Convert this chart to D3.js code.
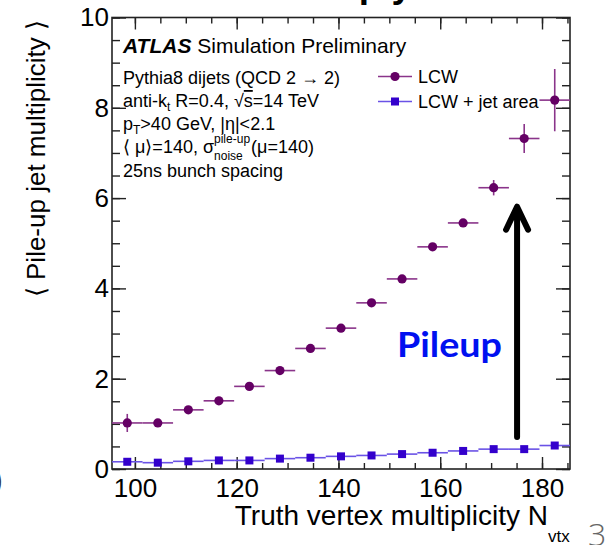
<!DOCTYPE html>
<html>
<head>
<meta charset="utf-8">
<script src="https://cdn.jsdelivr.net/npm/d3@7"></script>
<style>
  body { margin: 0; background: #fff; }
  svg { display: block; }
  text { font-family: "Liberation Sans", Arial, Helvetica, sans-serif; }
</style>
</head>
<body>
<svg id="chart" width="610" height="545"></svg>
<script>
// Truth vertex multiplicity bins (centres, width 6)
const binCenters = [98.5, 104.5, 110.5, 116.5, 122.5, 128.5, 134.5, 140.5,
                    146.5, 152.5, 158.5, 164.5, 170.5, 176.5, 182.5];
const binHalfWidth = 3;

// <pile-up jet multiplicity>, LCW
const lcwValues = [1.02, 1.02, 1.31, 1.51, 1.83, 2.18, 2.67, 3.12,
                   3.68, 4.21, 4.92, 5.45, 6.23, 7.32, 8.17];
const lcwErrors = [0.20, 0.05, 0.05, 0.05, 0.05, 0.05, 0.05, 0.05,
                   0.05, 0.05, 0.06, 0.08, 0.17, 0.32, 0.69];

// <pile-up jet multiplicity>, LCW + jet area subtraction
const jetAreaValues = [0.16, 0.14, 0.17, 0.19, 0.19, 0.23, 0.25, 0.28,
                       0.30, 0.33, 0.36, 0.40, 0.44, 0.44, 0.52];

const xTicks = [100, 120, 140, 160, 180];
const yTicks = [0, 2, 4, 6, 8, 10];
const xMinorTicks = d3.range(100, 185.1, 5);
const yMinorTicks = d3.range(0, 10.01, 0.5);

const seriesNames = ["LCW", "LCW + jet area"];

const svg = d3.select("#chart");
const frame = { left: 112, right: 570, top: 17.5, bottom: 469 };

const x = d3.scaleLinear().domain([95.5, 185.5]).range([frame.left, frame.right]);
const y = d3.scaleLinear().domain([0, 10]).range([frame.bottom, frame.top]);

const axisColor = "#222";
const tickFont = 26;

// ---- axes (ticks point inward on all four sides) ----
function styleAxis(g, showLabels) {
  g.select(".domain").remove();
  g.selectAll(".tick line").attr("stroke", axisColor).attr("stroke-width", 1.4);
  if (!showLabels) g.selectAll(".tick text").remove();
  else g.selectAll(".tick text")
        .attr("fill", "#000")
        .style("font-size", tickFont + "px")
        .style("font-family", "'Liberation Sans', Arial, sans-serif");
}

svg.append("g").attr("transform", `translate(0,${frame.bottom})`)
  .call(d3.axisBottom(x).tickValues(xMinorTicks).tickSize(-6).tickFormat(""))
  .call(g => styleAxis(g, false));
svg.append("g").attr("transform", `translate(0,${frame.bottom})`)
  .call(d3.axisBottom(x).tickValues(xTicks).tickSize(-12).tickPadding(10).tickFormat(d3.format("d")))
  .call(g => styleAxis(g, true));
svg.append("g").attr("transform", `translate(0,${frame.top})`)
  .call(d3.axisTop(x).tickValues(xMinorTicks).tickSize(-6).tickFormat(""))
  .call(g => styleAxis(g, false));
svg.append("g").attr("transform", `translate(0,${frame.top})`)
  .call(d3.axisTop(x).tickValues(xTicks).tickSize(-12).tickFormat(""))
  .call(g => styleAxis(g, false));

svg.append("g").attr("transform", `translate(${frame.left},0)`)
  .call(d3.axisLeft(y).tickValues(yMinorTicks).tickSize(-8).tickFormat(""))
  .call(g => styleAxis(g, false));
svg.append("g").attr("transform", `translate(${frame.left},0)`)
  .call(d3.axisLeft(y).tickValues(yTicks).tickSize(-14).tickPadding(3).tickFormat(d3.format("d")))
  .call(g => styleAxis(g, true));
svg.append("g").attr("transform", `translate(${frame.right},0)`)
  .call(d3.axisRight(y).tickValues(yMinorTicks).tickSize(-8).tickFormat(""))
  .call(g => styleAxis(g, false));
svg.append("g").attr("transform", `translate(${frame.right},0)`)
  .call(d3.axisRight(y).tickValues(yTicks).tickSize(-14).tickFormat(""))
  .call(g => styleAxis(g, false));

// frame
svg.append("rect")
  .attr("x", frame.left).attr("y", frame.top)
  .attr("width", frame.right - frame.left).attr("height", frame.bottom - frame.top)
  .attr("fill", "none").attr("stroke", axisColor).attr("stroke-width", 1.6);

// ---- axis titles ----
svg.append("text")
  .attr("x", 548).attr("y", 525)
  .attr("text-anchor", "end")
  .style("font-size", "28px").attr("fill", "#000")
  .text("Truth vertex multiplicity N");
svg.append("text")
  .attr("x", 548).attr("y", 542)
  .style("font-size", "17px").attr("fill", "#000")
  .text("vtx");

svg.append("text")
  .attr("transform", "translate(45,20) rotate(-90)")
  .attr("text-anchor", "end")
  .style("font-size", "26px").attr("fill", "#000")
  .text("\u27E8 Pile-up jet multiplicity \u27E9");

// ---- data ----
const lcwLine = "#8a348a", lcwMarker = "#640064";
const areaLine = "#6a52e6", areaMarker = "#3300cc";

const data = binCenters.map((c, i) => ({
  c, lcw: lcwValues[i], err: lcwErrors[i], area: jetAreaValues[i]
}));

const gArea = svg.append("g");
gArea.selectAll("line.h").data(data).join("line")
  .attr("x1", d => x(d.c - binHalfWidth)).attr("x2", d => x(d.c + binHalfWidth))
  .attr("y1", d => y(d.area)).attr("y2", d => y(d.area))
  .attr("stroke", areaLine).attr("stroke-width", 1.6);
gArea.selectAll("rect").data(data).join("rect")
  .attr("x", d => x(d.c) - 4).attr("y", d => y(d.area) - 4)
  .attr("width", 8).attr("height", 8)
  .attr("fill", areaMarker);

const gLcw = svg.append("g");
gLcw.selectAll("line.h").data(data).join("line")
  .attr("x1", d => x(d.c - binHalfWidth)).attr("x2", d => x(d.c + binHalfWidth))
  .attr("y1", d => y(d.lcw)).attr("y2", d => y(d.lcw))
  .attr("stroke", lcwLine).attr("stroke-width", 1.6);
gLcw.selectAll("line.v").data(data).join("line")
  .attr("x1", d => x(d.c)).attr("x2", d => x(d.c))
  .attr("y1", d => y(d.lcw - d.err)).attr("y2", d => y(d.lcw + d.err))
  .attr("stroke", lcwLine).attr("stroke-width", 1.6);
gLcw.selectAll("circle").data(data).join("circle")
  .attr("cx", d => x(d.c)).attr("cy", d => y(d.lcw)).attr("r", 4.6)
  .attr("fill", lcwMarker);

// ---- legend ----
const legend = svg.append("g").style("font-size", "18px");
[[lcwLine, lcwMarker, "circle"], [areaLine, areaMarker, "square"]].forEach(([lc, mc, shape], i) => {
  const cy = 76.5 + i * 25;
  legend.append("line").attr("x1", 378).attr("x2", 412).attr("y1", cy).attr("y2", cy)
    .attr("stroke", lc).attr("stroke-width", 1.6);
  if (shape === "circle")
    legend.append("circle").attr("cx", 395).attr("cy", cy).attr("r", 4.6).attr("fill", mc);
  else
    legend.append("rect").attr("x", 391).attr("y", cy - 4).attr("width", 8).attr("height", 8).attr("fill", mc);
  legend.append("text").attr("x", 418).attr("y", cy + 6.5).attr("fill", "#000").text(seriesNames[i]);
});

// ---- labels block ----
const info = svg.append("g").attr("fill", "#000");
const atlas = info.append("text").attr("x", 123).attr("y", 53).style("font-size", "21px");
atlas.append("tspan").style("font-weight", "bold").style("font-style", "italic").text("ATLAS");
atlas.append("tspan").text(" Simulation Preliminary");

const fs = 18;
info.append("text").attr("x", 123).attr("y", 84).style("font-size", fs + "px")
  .text("Pythia8 dijets (QCD 2 \u2192 2)");

const l2 = info.append("text").attr("x", 123).attr("y", 107).style("font-size", fs + "px");
l2.append("tspan").text("anti-k");
l2.append("tspan").attr("dy", 4).style("font-size", "12px").text("t");
l2.append("tspan").attr("dy", -4).text(" R=0.4, \u221A");
l2.append("tspan").style("text-decoration", "overline").text("s");
l2.append("tspan").text("=14 TeV");

const l3 = info.append("text").attr("x", 123).attr("y", 130).style("font-size", fs + "px");
l3.append("tspan").text("p");
l3.append("tspan").attr("dy", 4).style("font-size", "12px").text("T");
l3.append("tspan").attr("dy", -4).text(">40 GeV, |\u03B7|<2.1");

const l4a = info.append("text").attr("x", 123).attr("y", 153).style("font-size", fs + "px")
  .text("\u27E8 \u03BC\u27E9=140, \u03C3");
const sx = 123 + l4a.node().getComputedTextLength();
const sup = info.append("text").attr("x", sx).attr("y", 143).style("font-size", "12px").text("pile-up");
const sub = info.append("text").attr("x", sx).attr("y", 160).style("font-size", "12px").text("noise");
const sw = Math.max(sup.node().getComputedTextLength(), sub.node().getComputedTextLength());
info.append("text").attr("x", sx + sw + 1).attr("y", 153).style("font-size", fs + "px")
  .text("(\u03BC=140)");

info.append("text").attr("x", 123).attr("y", 177).style("font-size", fs + "px")
  .text("25ns bunch spacing");

// ---- pile-up annotation ----
const arrowX = 175.1, arrowFrom = 0.71, arrowTo = 5.81;
const ax = x(arrowX), ay0 = y(arrowFrom), ay1 = y(arrowTo);
svg.append("path")
  .attr("d", `M${ax},${ay0} L${ax},${ay1 + 2} M${ax - 11},${ay1 + 23} L${ax},${ay1} L${ax + 11},${ay1 + 23}`)
  .attr("fill", "none").attr("stroke", "#000").attr("stroke-width", 6)
  .attr("stroke-linecap", "round").attr("stroke-linejoin", "round");

svg.append("text")
  .attr("x", x(151.5)).attr("y", y(2.48))
  .attr("textLength", 105).attr("lengthAdjust", "spacingAndGlyphs")
  .style("font-family", "Lato, 'Open Sans', sans-serif")
  .style("font-weight", "bold").style("font-size", "34px")
  .attr("fill", "#0010f0")
  .text("Pileup");

// ---- slide surroundings ----
svg.append("text").attr("x", 186).attr("y", -3)
  .style("font-weight", "bold").style("font-size", "37px").attr("fill", "#000")
  .text("Jets multiply");
svg.append("text").attr("x", -6).attr("y", 490)
  .style("font-family", "'Open Sans', sans-serif").style("font-weight", 300)
  .style("font-size", "30px").attr("fill", "#333").text(")");
svg.append("text").attr("x", 588).attr("y", 546)
  .style("font-family", "'Open Sans', sans-serif").style("font-weight", 300)
  .style("font-size", "32px").attr("fill", "#666").text("3");
</script>
</body>
</html>
